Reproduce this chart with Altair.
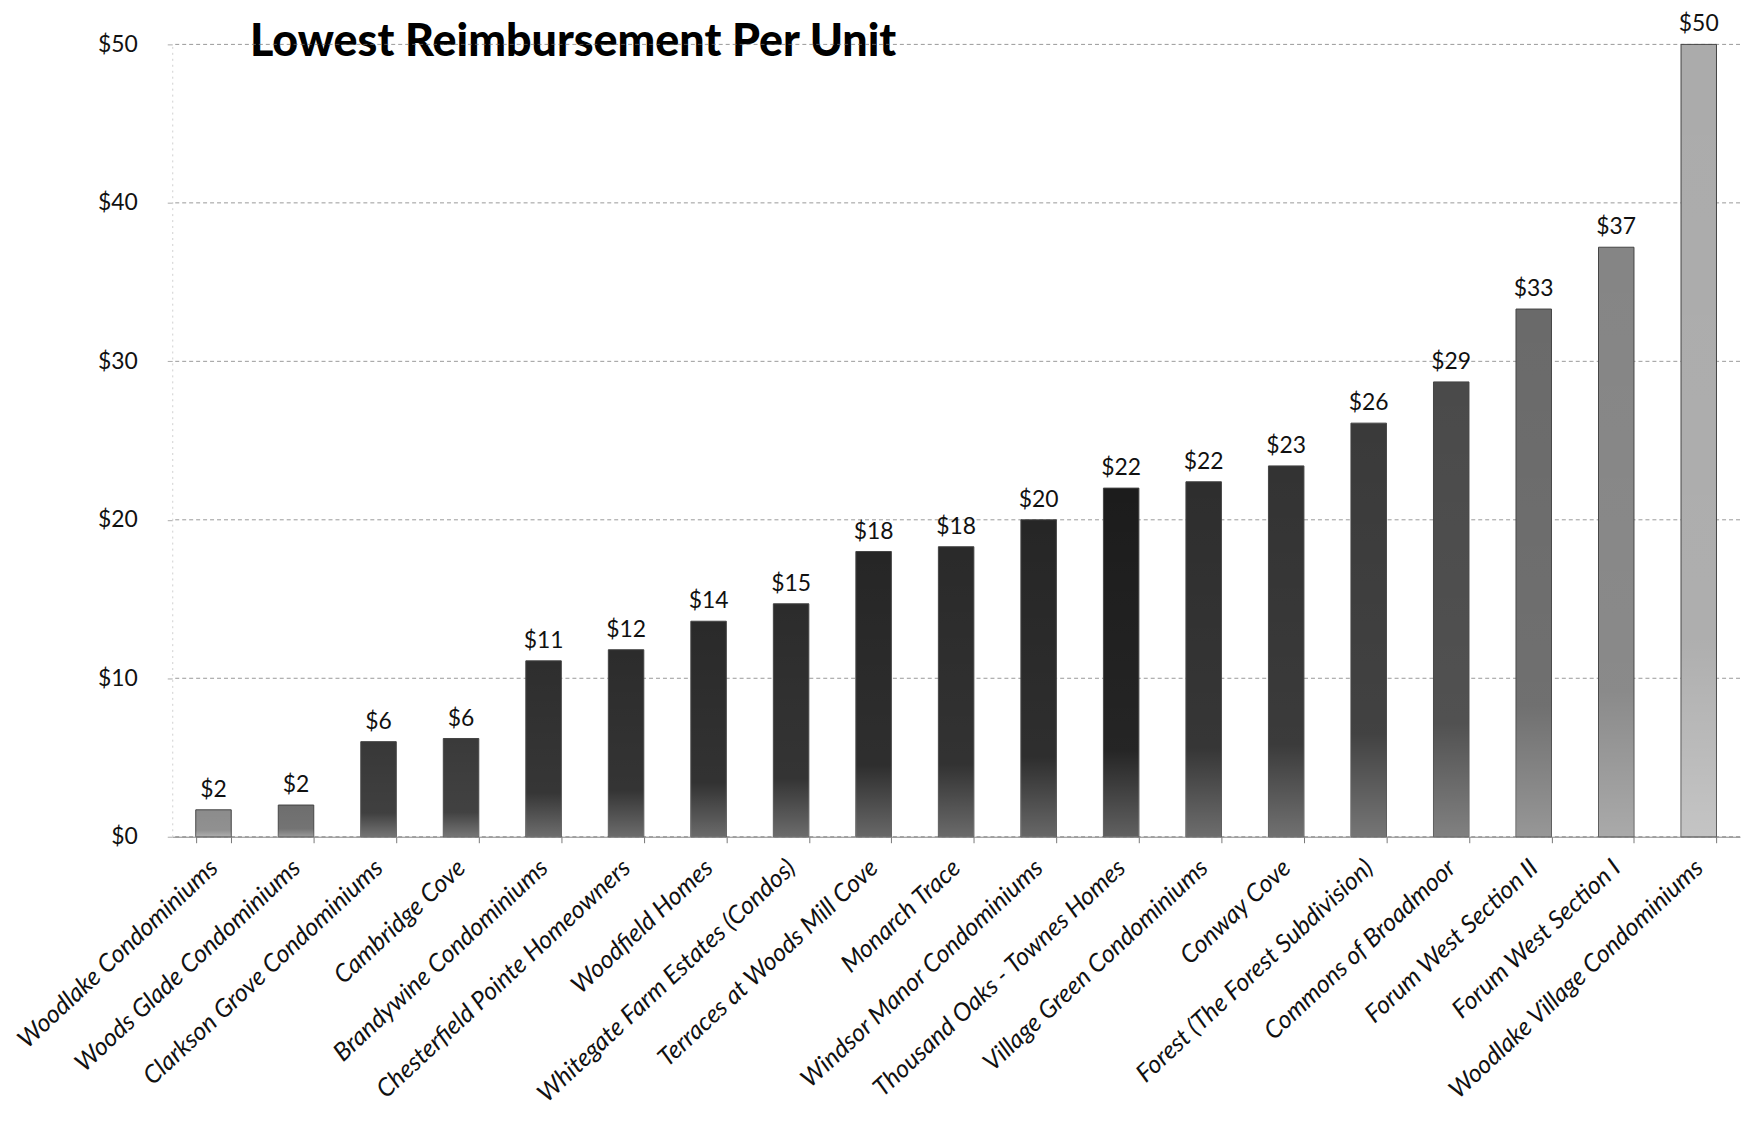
import altair as alt
import pandas as pd

names = [
    "Woodlake Condominiums", "Woods Glade Condominiums", "Clarkson Grove Condominiums",
    "Cambridge Cove", "Brandywine Condominiums", "Chesterfield Pointe Homeowners",
    "Woodfield Homes", "Whitegate Farm Estates (Condos)", "Terraces at Woods Mill Cove",
    "Monarch Trace", "Windsor Manor Condominiums", "Thousand Oaks - Townes Homes",
    "Village Green Condominiums", "Conway Cove", "Forest (The Forest Subdivision)",
    "Commons of Broadmoor", "Forum West Section II", "Forum West Section I",
    "Woodlake Village Condominiums",
]
values = [1.7, 2.0, 6.0, 6.2, 11.1, 11.8, 13.6, 14.7, 18.0, 18.3, 20.0, 22.0,
          22.4, 23.4, 26.1, 28.7, 33.3, 37.2, 50.0]
y_ticks = [0, 10, 20, 30, 40, 50]
title_text = ["Lowest Reimbursement Per Unit"]

bar_colors = ["#8c8c8c", "#6e6e6e", "#383838", "#3a3a3a", "#2e2e2e", "#2c2c2c",
              "#2a2a2a", "#2c2c2c", "#262626", "#2a2a2a", "#262626", "#1c1c1c",
              "#2e2e2e", "#333333", "#3a3a3a", "#4a4a4a", "#6a6a6a", "#858585",
              "#ababab"]

FONT = "Lato"

df = pd.DataFrame({"name": names, "value": values})
grid_df = pd.DataFrame({"v": y_ticks})
title_df = pd.DataFrame({"t": title_text})

yscale = alt.Scale(domain=[0, 50], nice=False)
xscale = alt.Scale(paddingInner=0.57, paddingOuter=0.285)

x_axis = alt.Axis(
    labelAngle=-43, labelAlign="right", labelBaseline="middle",
    labelFont=FONT, labelFontSize=25, labelFontStyle="italic",
    labelColor="#111", labelPadding=21, labelLimit=0,
    tickBand="extent", tickSize=6, tickColor="#777",
    domainColor="#888", domainWidth=1, grid=False,
)
y_axis = alt.Axis(
    values=y_ticks, format="$.0f", labelFont=FONT, labelFontSize=23,
    labelColor="#111", labelPadding=30, tickSize=5, tickColor="#aaa",
    domainColor="#d0d0d0", domainDash=[2, 4], grid=False,
)


def xe():
    return alt.X("name:N", sort=names, scale=xscale, title=None, axis=x_axis)


def ye(field):
    return alt.Y(field, scale=yscale, title=None, axis=y_axis)


title_layer = alt.Chart(title_df).mark_text(
    font=FONT, fontSize=45, fontWeight=900, color="#000",
    align="left", baseline="alphabetic",
).encode(text="t:N", x=alt.value(78), y=alt.value(12))

grid_layer = alt.Chart(grid_df).mark_rule(
    color="#777", strokeWidth=1, strokeDash=[4, 3], opacity=0.75
).encode(y=ye("v:Q"))

bars = alt.Chart(df).mark_bar(stroke="#444", strokeWidth=1).encode(
    x=xe(),
    y=ye("value:Q"),
    color=alt.Color("name:N", sort=names,
                    scale=alt.Scale(domain=names, range=bar_colors), legend=None),
)

shade = alt.Chart(df).mark_bar(
    color=alt.Gradient(
        gradient="linear", x1=0, x2=0, y1=0, y2=1,
        stops=[
            alt.GradientStop(color="rgba(255,255,255,0)", offset=0),
            alt.GradientStop(color="rgba(255,255,255,0.04)", offset=0.75),
            alt.GradientStop(color="rgba(255,255,255,0.3)", offset=1),
        ],
    )
).encode(x=xe(), y=ye("value:Q"))

labels = alt.Chart(df).mark_text(
    font=FONT, fontSize=23, color="#111", baseline="alphabetic", dy=-13
).encode(
    x=xe(),
    y=ye("value:Q"),
    text=alt.Text("value:Q", format="$.0f"),
)

chart = alt.layer(title_layer, grid_layer, bars, shade, labels).properties(
    width=1575, height=796,
    padding={"left": 165, "top": 34, "right": 3, "bottom": 280},
    autosize="none",
).configure_view(stroke=None)

chart.save("out.html", embed_options={"renderer": "svg", "actions": False})
